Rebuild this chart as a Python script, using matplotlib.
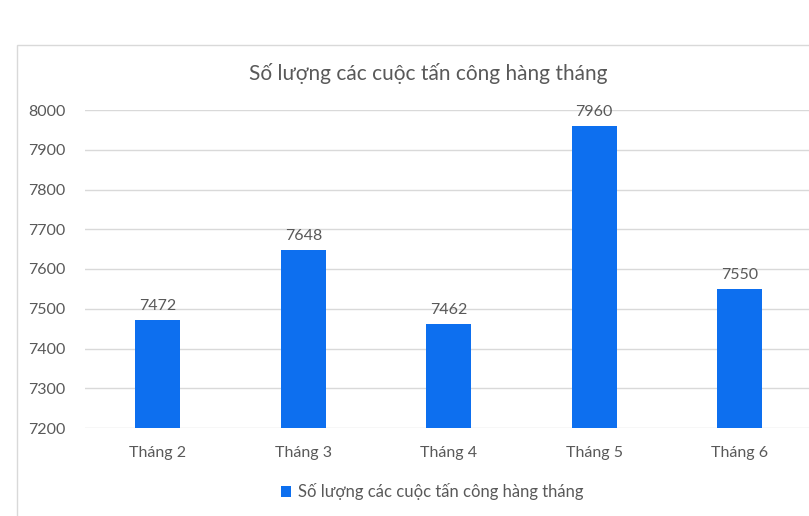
import matplotlib.pyplot as plt
from matplotlib.patches import Rectangle

months = ['Tháng 2', 'Tháng 3', 'Tháng 4', 'Tháng 5', 'Tháng 6']
attacks = [7472, 7648, 7462, 7960, 7550]
yticks = [7200, 7300, 7400, 7500, 7600, 7700, 7800, 7900, 8000]

title = 'Số lượng các cuộc tấn công hàng tháng'
bar_color = '#0d6fef'
text_color = '#595959'

plt.rcParams['font.family'] = ['Lato', 'DejaVu Sans']

fig = plt.figure(figsize=(8.09, 5.16), dpi=100)

# chart frame (cropped on right and bottom)
fig.patches.append(Rectangle((17/809, -0.1), 1.1, 0.1 + 1 - 45/516,
                             transform=fig.transFigure, fill=False,
                             edgecolor='#d9d9d9', linewidth=1))

ax = fig.add_axes([85/809, 1 - 428/516, 727.5/809, 318/516])
x = range(len(months))
bars = ax.bar(x, attacks, width=0.31, color=bar_color, bottom=0, zorder=3)
ax.set_ylim(7200, 8000)
ax.set_xlim(-0.5, len(months) - 0.5)
ax.set_yticks(yticks)
ax.set_xticks(list(x))
ax.set_xticklabels(months)
ax.grid(axis='y', color='#d9d9d9', linewidth=1, zorder=0)
for s in ax.spines.values():
    s.set_visible(False)
ax.tick_params(length=0, colors=text_color, labelsize=11.5)
ax.tick_params(axis='x', pad=13)
ax.tick_params(axis='y', pad=14)

for i, v in enumerate(attacks):
    ax.annotate(str(v), (i, v), xytext=(0, 5), textcoords='offset points',
                ha='center', va='bottom', color=text_color, fontsize=11.5)

fig.text(428/809, 1 - 73/516, title, ha='center', va='center',
         color=text_color, fontsize=15)

ax.legend([bars], [title], loc='center', bbox_to_anchor=(432/809, 1 - 492/516),
          bbox_transform=fig.transFigure, frameon=False, fontsize=12,
          handlelength=0.6, handleheight=0.6, handletextpad=0.4,
          labelcolor=text_color)

fig.savefig('out.png', dpi=100, facecolor='white')
